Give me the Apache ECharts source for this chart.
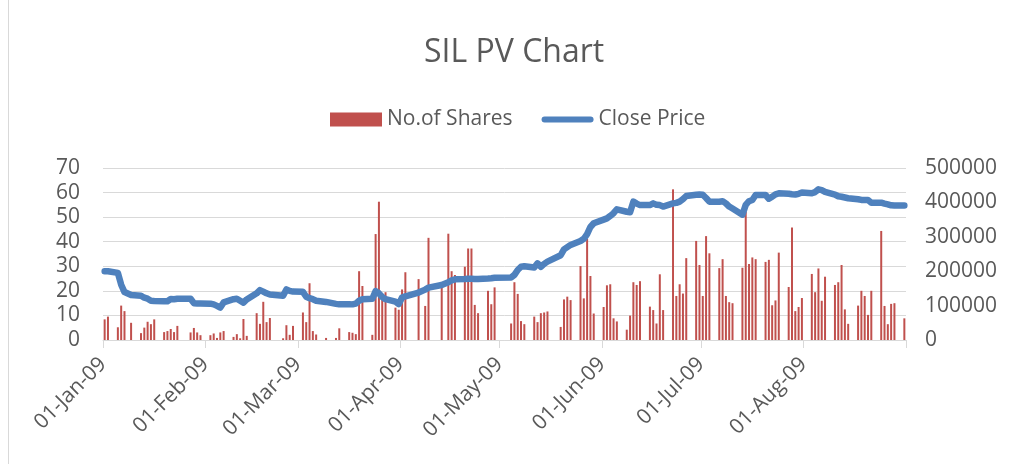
<!DOCTYPE html>
<html>
<head>
<meta charset="utf-8">
<script src="https://cdn.jsdelivr.net/npm/echarts@6/dist/echarts.min.js"></script>
<style>
    html, body { margin: 0; padding: 0; background: #fff; }
    #chart { width: 1009px; height: 464px; }
</style>
</head>
<body>
<div id="chart"></div>
<script>
// Month names used for the date tick labels
const MONTH_NAMES = ['Jan', 'Feb', 'Mar', 'Apr', 'May', 'Jun', 'Jul', 'Aug', 'Sep'];
// Day-of-year offset of the first of each month (2009), 243 = 01-Sep
const MONTH_START = [0, 31, 59, 90, 120, 151, 181, 212, 243];

// Trading days (day of month), traded shares and close price, one set per month
const janDays   = [1, 2, 5, 6, 7, 9, 12, 13, 14, 15, 16, 19, 20, 21, 22, 23, 27, 28, 29, 30];
const janShares = [60000, 68000, 37000, 100000, 84000, 50000, 20000, 36000, 53000, 46000, 60000, 23000, 26000, 32000, 23000, 41000, 22000, 35000, 22000, 14000];
const janClose  = [28.0, 28.0, 27.3, 22.5, 19.5, 18.3, 18.0, 17.2, 16.8, 16.0, 15.9, 15.8, 15.8, 16.7, 16.6, 16.8, 16.8, 15.0, 14.9, 14.9];

const febDays   = [2, 3, 4, 5, 6, 9, 10, 11, 12, 13, 16, 17, 18, 19, 20, 24, 25, 26, 27];
const febShares = [14000, 19000, 6000, 22000, 26000, 9000, 17000, 5000, 61000, 12000, 78000, 47000, 111000, 52000, 64000, 5000, 43000, 15000, 41000];
const febClose  = [14.8, 14.5, 13.9, 13.2, 15.3, 16.6, 16.8, 16.0, 15.2, 16.5, 19.0, 20.3, 19.7, 19.0, 18.5, 18.0, 20.6, 20.0, 19.7];

const marDays   = [2, 3, 4, 5, 6, 9, 12, 13, 16, 17, 18, 19, 20, 23, 24, 25, 26, 27, 30, 31];
const marShares = [80000, 52000, 165000, 26000, 16000, 6000, 6000, 34000, 23000, 21000, 17000, 200000, 157000, 15000, 308000, 402000, 125000, 139000, 94000, 88000];
const marClose  = [19.6, 17.6, 17.0, 16.6, 16.0, 15.5, 14.7, 14.5, 14.6, 14.5, 14.8, 16.0, 16.6, 16.8, 19.9, 19.0, 17.5, 16.6, 15.6, 14.6];

const aprDays   = [1, 2, 6, 8, 9, 13, 15, 16, 17, 20, 21, 22, 23, 24, 27, 28, 29];
const aprShares = [147000, 197000, 177000, 99000, 297000, 155000, 309000, 200000, 189000, 213000, 266000, 266000, 102000, 78000, 143000, 104000, 153000];
const aprClose  = [17.3, 17.8, 19.3, 20.5, 21.3, 22.4, 23.5, 24.3, 24.7, 24.8, 24.9, 24.9, 24.8, 24.8, 25.0, 25.1, 25.3];

const mayDays   = [4, 5, 6, 7, 8, 11, 12, 13, 14, 15, 19, 20, 21, 22, 25, 26, 27, 28, 29];
const mayShares = [48000, 168000, 134000, 55000, 46000, 68000, 52000, 78000, 80000, 83000, 38000, 118000, 126000, 116000, 215000, 121000, 294000, 186000, 77000];
const mayClose  = [25.4, 26.5, 28.5, 29.8, 30.0, 29.5, 31.2, 29.8, 31.0, 31.9, 34.5, 36.9, 37.8, 38.7, 40.3, 41.2, 43.1, 46.0, 47.5];

const junDays   = [1, 2, 3, 4, 5, 8, 9, 10, 11, 12, 15, 16, 17, 18, 19, 22, 23, 24, 25, 26, 29, 30];
const junShares = [96000, 159000, 162000, 63000, 54000, 30000, 71000, 168000, 160000, 171000, 97000, 87000, 48000, 191000, 87000, 438000, 128000, 162000, 135000, 238000, 288000, 218000];
const junClose  = [49.0, 49.5, 50.5, 51.6, 53.2, 52.2, 52.0, 56.3, 55.5, 54.9, 54.9, 55.6, 55.0, 54.9, 54.3, 55.6, 55.8, 56.3, 57.3, 58.6, 59.1, 59.2];

const julDays   = [1, 2, 3, 6, 7, 8, 9, 10, 13, 14, 15, 16, 17, 20, 21, 22, 23, 24, 27, 28, 29, 30, 31];
const julShares = [128000, 302000, 252000, 209000, 235000, 128000, 110000, 107000, 210000, 373000, 221000, 240000, 235000, 227000, 233000, 101000, 115000, 254000, 154000, 327000, 84000, 96000, 122000];
const julClose  = [59.1, 57.8, 56.3, 56.3, 56.5, 55.6, 54.3, 53.5, 51.0, 55.0, 56.5, 57.0, 59.0, 59.0, 57.5, 58.3, 59.3, 59.7, 59.5, 59.3, 59.2, 59.5, 60.0];

const augDays   = [3, 4, 5, 6, 7, 10, 11, 12, 13, 14, 17, 18, 19, 20, 21, 24, 25, 26, 27, 28, 31];
const augShares = [192000, 139000, 208000, 114000, 184000, 160000, 168000, 218000, 89000, 47000, 100000, 143000, 128000, 73000, 143000, 317000, 99000, 46000, 105000, 107000, 63000];
const augClose  = [59.7, 60.2, 61.3, 61.0, 60.3, 59.2, 58.5, 58.3, 58.0, 57.7, 57.3, 57.0, 57.0, 57.0, 55.9, 55.9, 55.5, 55.2, 54.8, 54.7, 54.7];

const MONTHS = [
    [janDays, janShares, janClose],
    [febDays, febShares, febClose],
    [marDays, marShares, marClose],
    [aprDays, aprShares, aprClose],
    [mayDays, mayShares, mayClose],
    [junDays, junShares, junClose],
    [julDays, julShares, julClose],
    [augDays, augShares, augClose],
];

const FONT = "'Open Sans', 'Liberation Sans', sans-serif";
const TEXT = '#595959';
const GRID = '#d9d9d9';
const RED = '#C0504D';
const BLUE = '#4F81BD';

// Each point sits in the middle of its day slot, as on the date axis
const sharesData = [];
const closeData = [];
MONTHS.forEach(([days, shares, close], m) => {
    days.forEach((d, i) => {
        const x = MONTH_START[m] + d - 1 + 0.5;
        sharesData.push([x, shares[i]]);
        closeData.push([x, close[i]]);
    });
});

function dateLabel(v) {
    const idx = MONTH_START.indexOf(v);
    return idx < 0 ? '' : '01-' + MONTH_NAMES[idx] + '-09';
}

const chart = echarts.init(document.getElementById('chart'));
chart.setOption({
    backgroundColor: '#fff',
    animation: false,
    title: {
        text: 'SIL PV Chart',
        left: 419,
        top: 32,
        textStyle: { color: TEXT, fontFamily: FONT, fontSize: 32, fontWeight: 'normal' }
    },
    legend: {
        top: 104,
        left: 325,
        itemWidth: 52,
        itemHeight: 14,
        itemGap: 29,
        textStyle: { color: TEXT, fontFamily: FONT, fontSize: 21 },
        data: [
            { name: 'No.of Shares', icon: 'rect' },
            // thick line swatch with rounded ends, like the reference legend
            { name: 'Close Price', icon: 'path://M3,0 L49,0 A3,3 0 0 1 49,6 L3,6 A3,3 0 0 1 3,0 Z', itemStyle: { color: BLUE } }
        ]
    },
    grid: { left: 103, right: 103, top: 168, bottom: 124, containLabel: false },
    xAxis: {
        type: 'value',
        min: 0,
        max: 243,
        axisLine: { show: true, lineStyle: { color: GRID, width: 1 } },
        axisTick: { show: true, length: 8, lineStyle: { color: GRID }, customValues: MONTH_START },
        axisLabel: {
            customValues: MONTH_START.slice(0, 8),
            formatter: dateLabel,
            rotate: 45,
            margin: 21,
            color: TEXT,
            fontFamily: FONT,
            fontSize: 21
        },
        splitLine: { show: false }
    },
    yAxis: [
        {
            type: 'value',
            min: 0,
            max: 70,
            interval: 10,
            axisLine: { show: false },
            axisTick: { show: false },
            axisLabel: { color: TEXT, fontFamily: FONT, fontSize: 21, margin: 23 },
            splitLine: { lineStyle: { color: GRID, width: 1 } }
        },
        {
            type: 'value',
            min: 0,
            max: 500000,
            interval: 100000,
            position: 'right',
            axisLine: { show: false },
            axisTick: { show: false },
            axisLabel: { color: TEXT, fontFamily: FONT, fontSize: 21, margin: 19, formatter: v => String(v) },
            splitLine: { show: false }
        }
    ],
    graphic: [
        // left edge of the chart area border
        { type: 'line', shape: { x1: 8.5, y1: 0, x2: 8.5, y2: 464 }, style: { stroke: GRID, lineWidth: 1 }, silent: true }
    ],
    series: [
        {
            name: 'No.of Shares',
            type: 'bar',
            yAxisIndex: 1,
            data: sharesData,
            barWidth: 2,
            itemStyle: { color: RED },
            z: 2
        },
        {
            name: 'Close Price',
            type: 'line',
            yAxisIndex: 0,
            data: closeData,
            showSymbol: false,
            symbol: 'none',
            lineStyle: { color: BLUE, width: 6.5, cap: 'round', join: 'round' },
            itemStyle: { color: BLUE },
            z: 3
        }
    ]
});
</script>
</body>
</html>
